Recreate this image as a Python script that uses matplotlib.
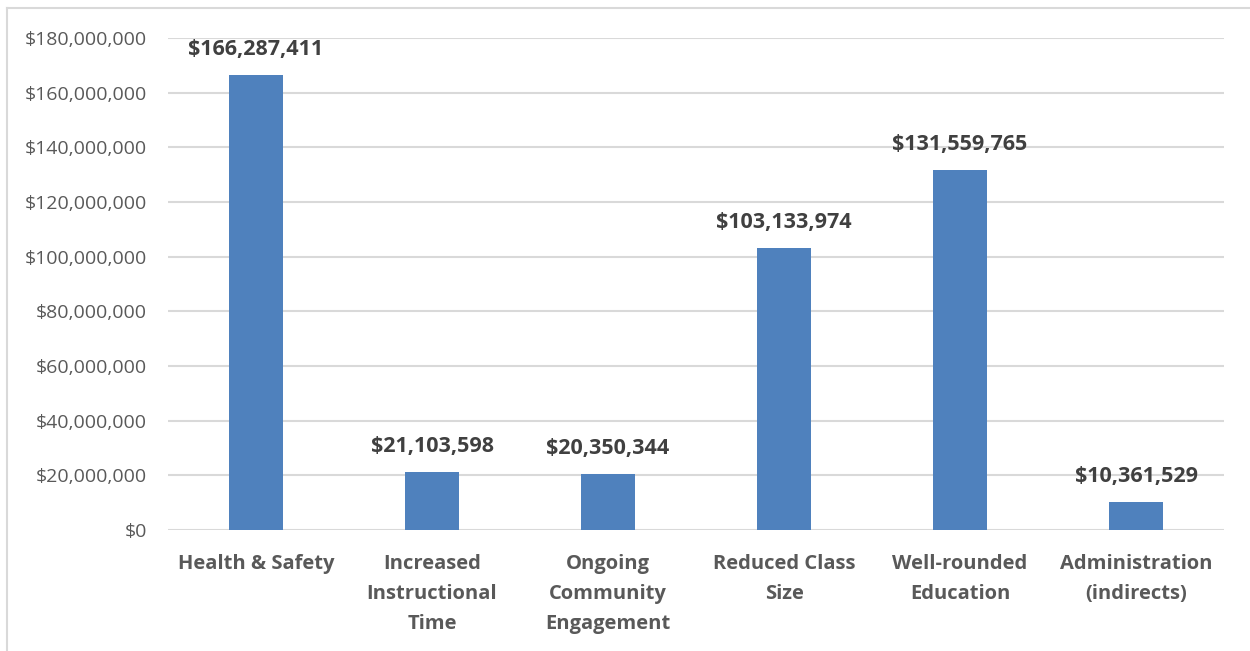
import matplotlib
matplotlib.use('Agg')
import matplotlib.pyplot as plt
from matplotlib.lines import Line2D
from matplotlib.ticker import FuncFormatter, MultipleLocator

# ── Data ──────────────────────────────────────────────────────────────────────
categories = [
    "Health & Safety",
    "Increased\nInstructional\nTime",
    "Ongoing\nCommunity\nEngagement",
    "Reduced Class\nSize",
    "Well-rounded\nEducation",
    "Administration\n(indirects)",
]
amounts = [166287411, 21103598, 20350344, 103133974, 131559765, 10361529]

BAR_COLOR  = '#4f81bd'
GRID_COLOR = '#d9d9d9'
TICK_COLOR = '#595959'
LABEL_COLOR = '#404040'

plt.rcParams['font.family'] = ['Open Sans', 'DejaVu Sans']

fig = plt.figure(figsize=(12.5, 6.51), dpi=100)
ax = fig.add_axes([168 / 1250, 1 - 530 / 651, 1056 / 1250, 492 / 651])

x = range(len(categories))
ax.bar(x, amounts, width=0.31, color=BAR_COLOR, zorder=3)

for xi, v in zip(x, amounts):
    ax.text(xi, v + 5.5e6, f"${v:,.0f}", ha='center', va='bottom',
            fontsize=15.5, fontweight='bold', color=LABEL_COLOR)

ax.set_xlim(-0.5, len(categories) - 0.5)
ax.set_ylim(0, 180e6)
ax.yaxis.set_major_locator(MultipleLocator(20e6))
ax.yaxis.set_major_formatter(FuncFormatter(lambda v, _: f"${v:,.0f}"))
ax.grid(axis='y', color=GRID_COLOR, linewidth=1.5, zorder=0)

ax.set_xticks(list(x))
ax.set_xticklabels(categories, fontsize=14.5, fontweight='bold',
                   color=TICK_COLOR, linespacing=1.68)
ax.tick_params(axis='x', length=0, pad=17)
ax.tick_params(axis='y', length=0, pad=15, labelsize=14, labelcolor=TICK_COLOR)
for s in ax.spines.values():
    s.set_visible(False)

# chart frame (top and left edges)
fig.add_artist(Line2D([7 / 1250, 1], [1 - 8 / 651, 1 - 8 / 651],
                      transform=fig.transFigure, color=GRID_COLOR, linewidth=1.5))
fig.add_artist(Line2D([7 / 1250, 7 / 1250], [0, 1 - 8 / 651],
                      transform=fig.transFigure, color=GRID_COLOR, linewidth=1.5))

fig.savefig('out.png', dpi=100, facecolor='white')
